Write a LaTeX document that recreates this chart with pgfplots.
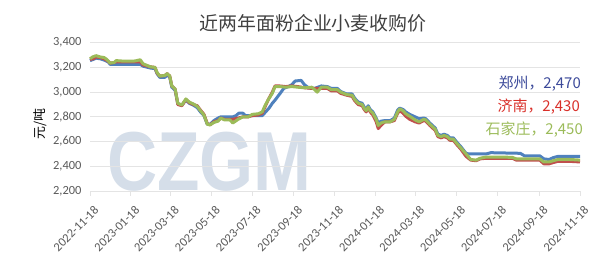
\documentclass[border=0pt]{standalone}
\usepackage{pgfplots}
\usepackage{pgfplotstable}
\pgfplotsset{compat=1.18}
\usepackage{fontspec}
\setmainfont{Carlito}
\newfontfamily\cjk{Noto Sans CJK SC}
\newfontfamily\wm{Liberation Sans}
\definecolor{cblue}{HTML}{4F81BD}
\definecolor{cred}{HTML}{C0504D}
\definecolor{cgreen}{HTML}{9BBB59}
\definecolor{lblue}{HTML}{3C4A9A}
\definecolor{lred}{HTML}{D9302A}
\definecolor{lgreen}{HTML}{9BBB59}
\definecolor{wmcol}{HTML}{D5DEE9}
\definecolor{tickgray}{HTML}{595959}
\definecolor{gridgray}{HTML}{E4E4E4}

% x = days since 2022-11-18
\pgfplotstableread{
x y
0 3255
5 3265
9 3275
15 3270
21 3260
27 3245
30 3225
75 3225
79 3210
90 3195
97 3190
100 3150
104 3120
112 3120
115 3140
119 3120
122 3040
127 3015
131 2905
137 2895
143 2935
148 2910
154 2895
160 2875
164 2845
170 2810
175 2740
179 2740
185 2770
191 2790
195 2800
213 2800
218 2810
222 2830
228 2830
232 2810
245 2810
257 2810
262 2840
267 2870
272 2910
276 2935
283 2985
289 3030
296 3045
301 3060
306 3090
315 3095
320 3060
326 3035
335 3030
345 3050
354 3045
360 3030
369 3030
374 3005
383 2985
391 2985
395 2950
400 2920
406 2910
409 2880
412 2860
415 2890
418 2860
422 2840
427 2790
430 2750
434 2765
440 2770
448 2770
454 2790
459 2855
462 2870
467 2860
471 2840
477 2820
485 2800
491 2785
498 2790
501 2785
507 2750
515 2710
519 2660
524 2650
528 2660
533 2650
537 2630
542 2630
548 2590
553 2560
561 2505
565 2500
591 2500
598 2510
642 2505
648 2485
671 2485
677 2460
685 2455
691 2470
698 2480
731 2480
}\zhengzhou

\pgfplotstableread{
x y
0 3265
5 3270
9 3285
15 3280
21 3270
27 3250
30 3235
36 3240
39 3245
75 3245
79 3220
90 3205
97 3200
100 3155
104 3130
112 3135
115 3150
119 3130
122 3050
127 3025
131 2900
137 2890
143 2940
148 2915
154 2900
160 2890
164 2860
170 2820
175 2745
179 2735
185 2760
191 2770
195 2790
201 2780
213 2780
221 2790
228 2800
236 2800
242 2810
251 2815
257 2830
261 2880
266 2940
272 3000
276 3050
283 3050
292 3045
301 3050
310 3045
321 3035
331 3030
354 3030
360 3010
369 3010
374 2990
383 2975
391 2965
395 2930
400 2900
406 2890
409 2860
412 2840
415 2870
418 2840
422 2815
427 2760
430 2705
434 2730
440 2760
448 2760
454 2770
459 2830
462 2850
467 2830
471 2805
477 2780
485 2760
491 2750
498 2770
501 2765
507 2730
515 2690
519 2640
524 2630
528 2640
533 2630
537 2610
542 2610
548 2570
553 2540
561 2480
568 2450
576 2445
582 2460
591 2465
630 2465
636 2450
671 2450
677 2420
685 2420
691 2430
698 2440
716 2440
731 2435
}\jinan

\pgfplotstableread{
x y
0 3270
4 3285
9 3295
15 3285
21 3280
25 3265
30 3235
36 3240
39 3255
52 3250
67 3252
75 3262
79 3230
90 3205
97 3200
100 3160
104 3130
112 3135
115 3150
119 3130
122 3050
127 3025
131 2910
137 2895
143 2945
148 2920
154 2905
160 2885
164 2855
170 2815
175 2740
179 2735
185 2755
191 2765
195 2790
201 2775
209 2775
213 2750
221 2780
228 2800
236 2800
242 2820
251 2825
257 2840
261 2890
266 2940
272 2990
276 3045
283 3045
292 3040
301 3045
310 3040
321 3035
331 3040
339 3000
345 3040
354 3040
360 3020
369 3020
374 3000
383 2980
391 2975
395 2940
400 2910
406 2900
409 2870
412 2850
415 2880
418 2850
422 2830
427 2780
430 2730
434 2750
440 2760
448 2760
454 2780
459 2840
462 2865
467 2850
471 2825
477 2805
485 2775
491 2760
498 2780
501 2775
507 2740
515 2700
519 2650
524 2640
528 2650
533 2640
537 2620
542 2620
548 2580
553 2550
561 2500
568 2455
576 2450
582 2465
591 2475
612 2475
630 2472
636 2460
671 2460
677 2435
685 2435
691 2445
698 2455
716 2455
731 2450
}\shijiazhuang

\begin{document}
\begin{tikzpicture}[x=1bp,y=1bp]
\useasboundingbox (0,0) rectangle (610,277);
\coordinate (AX) at (90,86);
\node[font=\wm\bfseries\fontsize{84}{84}\selectfont, text=wmcol, anchor=base west, xscale=0.83, inner sep=0] at (107,87) {CZGM};
\begin{axis}[
  at={(AX)}, anchor=south west,
  scale only axis, width=490bp, height=148.3bp,
  xmin=0, xmax=731, ymin=2200, ymax=3400,
  axis line style={draw=none},
  axis x line*=bottom,
  x axis line style={draw=gridgray, line width=0.8bp},
  xtick={0,61,120,181,242,304,365,426,486,547,608,670,731},
  xticklabels={2022-11-18,2023-01-18,2023-03-18,2023-05-18,2023-07-18,2023-09-18,2023-11-18,2024-01-18,2024-03-18,2024-05-18,2024-07-18,2024-09-18,2024-11-18},
  ytick={2200,2400,...,3400},
  ymajorgrids, grid style={draw=gridgray, line width=0.8bp},
  y axis line style={draw=none},
  major tick length=0pt,
  xtick style={draw=gridgray, line width=0.8bp},
  x tick style={/pgfplots/major tick length=5bp},
  tick align=outside,
  ytick style={draw=none},
  /pgf/number format/.cd, 1000 sep={,}, assume math mode=true,
  /pgfplots/.cd,
  tick label style={font=\fontsize{12.5}{12.5}\selectfont, text=tickgray},
  yticklabel style={xshift=-5bp},
  xticklabel style={xshift=3.4bp, yshift=-12.4bp, rotate=45, anchor=north east, inner sep=1bp},
  clip=false,
]
\addplot[cblue, line width=3bp, line join=round] table {\zhengzhou};
\addplot[cred, line width=3bp, line join=round] table {\jinan};
\addplot[cgreen, line width=3bp, line join=round] table {\shijiazhuang};
\end{axis}
\node[font=\cjk\fontsize{19}{19}\selectfont, text=black!75] at (313,253.5) {近两年面粉企业小麦收购价};
\node[font=\cjk\fontsize{13}{13}\selectfont, rotate=90] at (40,153) {元/吨};
\node[font=\cjk\fontsize{15}{15}\selectfont, text=lblue, anchor=east, inner sep=0] at (581,193) {郑州，2,470};
\node[font=\cjk\fontsize{15}{15}\selectfont, text=lred, anchor=east, inner sep=0] at (580,170) {济南，2,430};
\node[font=\cjk\fontsize{15}{15}\selectfont, text=lgreen, anchor=east, inner sep=0] at (583,147) {石家庄，2,450};
\end{tikzpicture}
\end{document}
